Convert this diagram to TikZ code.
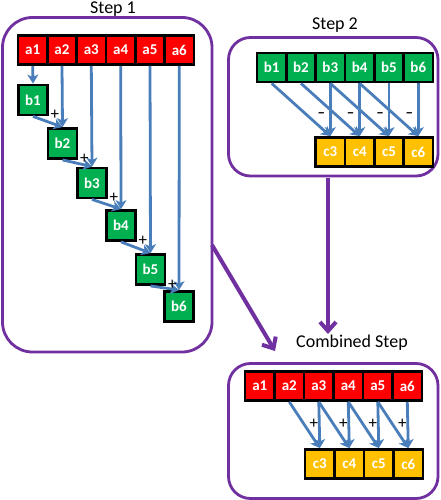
\documentclass[tikz,border=0pt]{standalone}
\usepackage{fontspec}
\setmainfont{Carlito}
\usetikzlibrary{arrows.meta}
\definecolor{cred}{HTML}{FF0000}
\definecolor{cgreen}{HTML}{00B050}
\definecolor{cyel}{HTML}{FFC000}
\definecolor{cpurp}{HTML}{7030A0}
\definecolor{cblue}{HTML}{4A7EBB}
\tikzset{
  cell/.style={draw=black, line width=2.8pt, minimum width=29.3pt, minimum height=29pt, inner sep=0pt, text=white, font=\fontsize{15}{15}\selectfont\bfseries},
  acell/.style={cell, fill=cred},
  bcell/.style={cell, fill=cgreen, minimum width=29pt, minimum height=30pt},
  ccell/.style={cell, fill=cyel},
  flow/.style={draw=cblue, line width=2.8pt, -{Stealth[length=9pt,width=11pt,inset=2.5pt]}},
  container/.style={draw=cpurp, line width=2.8pt},
  bigarrow/.style={draw=cpurp, line width=4pt, -{Straight Barb[length=9pt,width=16pt,line width=4pt]}},
  title/.style={font=\fontsize{18}{18}\selectfont},
  sign/.style={font=\fontsize{17}{17}\selectfont, inner sep=0pt},
  msign/.style={font=\fontsize{15}{15}\selectfont\bfseries, inner sep=0pt},
}
\begin{document}
\begin{tikzpicture}[x=1pt,y=-1pt]
\useasboundingbox (0,0) rectangle (440,500);

% containers
\draw[container, rounded corners=30pt] (2.5,17.5) rectangle (212,352);
\draw[container, rounded corners=22pt] (228.5,37.5) rectangle (438,176);
\draw[container, rounded corners=22pt] (228.5,363.5) rectangle (438,498.5);

% titles
\node[title] (t1) at (113,9) {Step 1};
\node[title] (t2) at (335,25) {Step 2};
\node[title] (t3) at (352,343) {Combined Step};

% ---- Step 1 ----
\foreach \i/\x in {1/32.7,2/62,3/91.3,4/120.7,5/150,6/179.3}
  \node[acell] (sa\i) at (\x,50) {a\i};
\node[bcell] (sb1) at (33,100) {b1};
\node[bcell] (sb2) at (62.5,143.5) {b2};
\node[bcell] (sb3) at (92,183) {b3};
\node[bcell] (sb4) at (121,225.5) {b4};
\node[bcell] (sb5) at (150.5,269.5) {b5};
\node[bcell] (sb6) at (179,306.5) {b6};
\draw[flow] (sa1.south) -- (sb1.north);
\foreach \i [evaluate=\i as \p using int(\i-1)] in {2,...,6}{
  \draw[flow] (sa\i.south) -- (sb\i.north);
  \draw[flow] (sb\p.south) -- (sb\i.north);
  \node[sign] (sp\i) at ([xshift=6pt,yshift=1.5pt]sb\p.south east) {+};
}

% ---- Step 2 ----
\foreach \i/\x in {1/271.7,2/301,3/330.3,4/359.7,5/389,6/418.3}
  \node[bcell, minimum width=29.3pt, minimum height=29pt] (tb\i) at (\x,67.5) {b\i};
\foreach \i/\x in {3/330.3,4/359.7,5/389,6/418.3}
  \node[ccell] (tc\i) at (\x,152) {c\i};
\foreach \i [evaluate=\i as \p using int(\i-2)] in {3,...,6}{
  \draw[flow] (tb\i.south) -- (tc\i.north);
  \draw[flow] (tb\p.south) -- (tc\i.north);
  \node[msign] (tm\i) at ([xshift=-9pt]tc\i.north |- 0,115) {–};
}

% ---- Combined step ----
\foreach \i/\x in {1/259.8,2/289.3,3/318.8,4/348.3,5/377.8,6/407.3}
  \node[acell, minimum width=29.5pt] (ua\i) at (\x,386) {a\i};
\foreach \i/\x in {3/319.8,4/349.3,5/378.8,6/408.3}
  \node[ccell, minimum width=29.5pt] (uc\i) at (\x,464) {c\i};
\foreach \i [evaluate=\i as \p using int(\i-1)] in {3,...,6}{
  \draw[flow] (ua\i.south) -- (uc\i.north);
  \draw[flow] (ua\p.south) -- (uc\i.north);
  \node[sign] (up\i) at ([xshift=-6pt]uc\i.north |- 0,424) {+};
}

% big purple arrows
\coordinate (s1out) at (212,245);
\coordinate (cbin) at (275,351);
\coordinate (s2out) at (328,178);
\coordinate (cbtop) at (328,334);
\draw[bigarrow] (s1out) -- (cbin);
\draw[bigarrow] (s2out) -- (cbtop);
\end{tikzpicture}
\end{document}
